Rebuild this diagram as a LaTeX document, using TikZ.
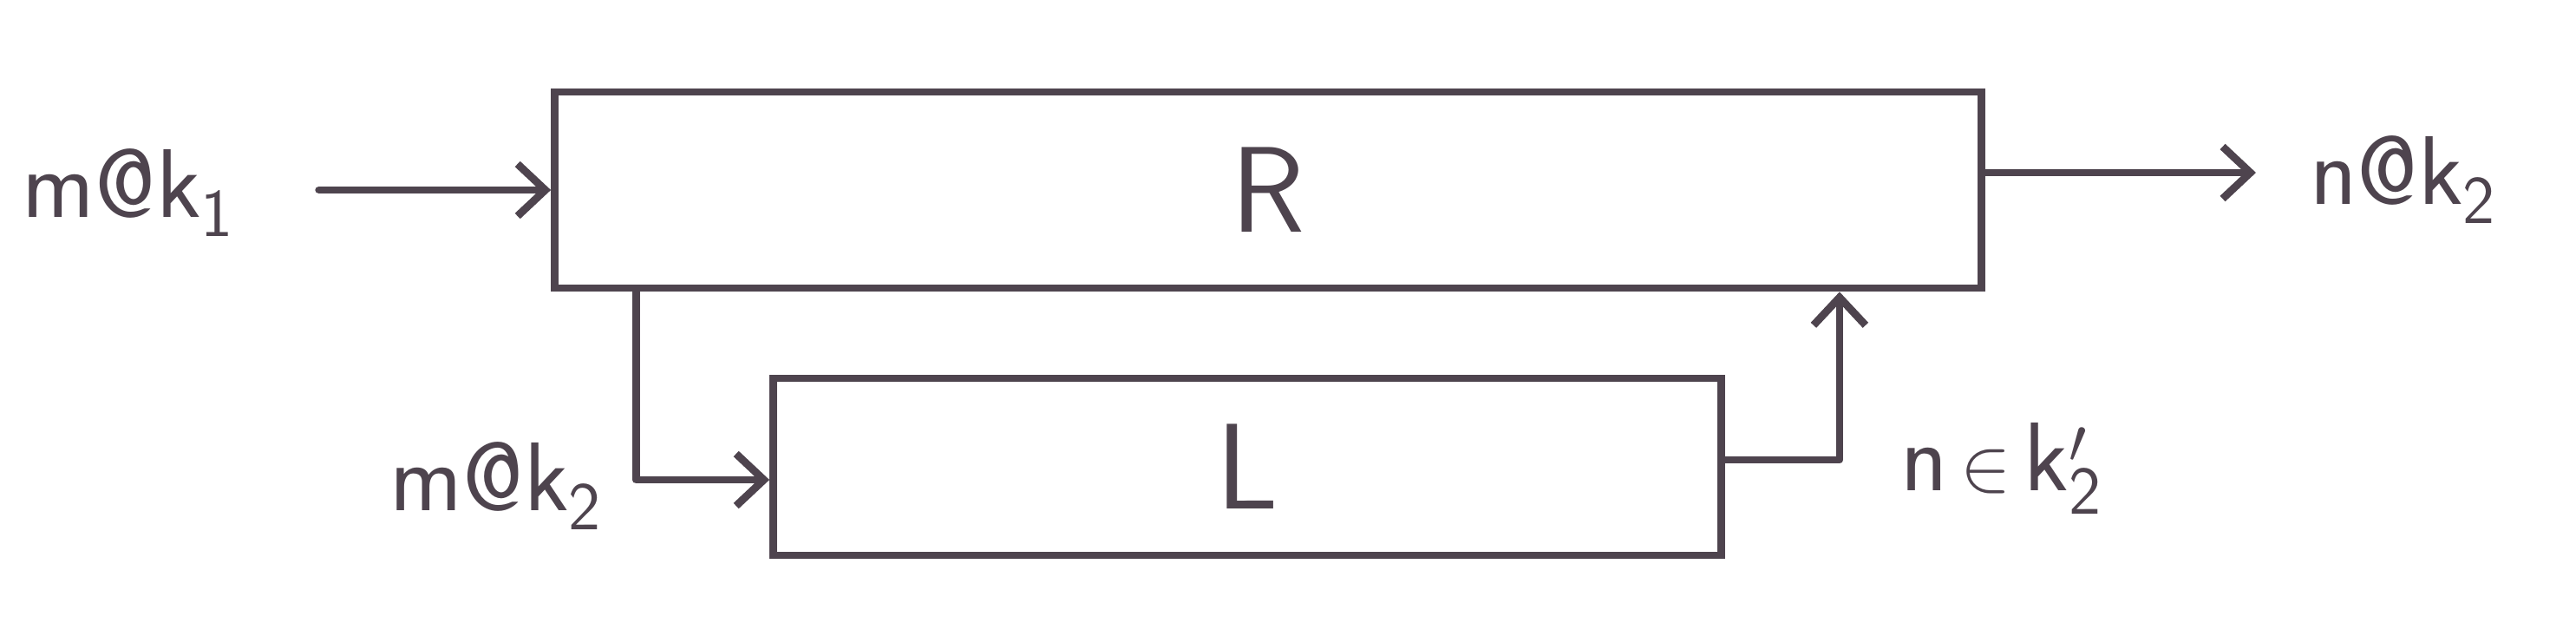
\documentclass[tikz,border=0pt]{standalone}
\usepackage{fontspec}
\usetikzlibrary{positioning, arrows.meta}

\begin{document}
\begin{tikzpicture}[
    block/.style={draw=pencil, line width=2.5pt, inner sep=0pt, text=pencil, font=\fontsize{40}{40}\selectfont\sffamily},
    flow/.style={draw=pencil, line width=2.5pt, ->, >={Straight Barb[length=3.2mm, width=6mm]}, line cap=round, line join=round},
    tag/.style={text=pencil, font=\fontsize{32}{32}\selectfont\sffamily},
  ]

\definecolor{pencil}{RGB}{78, 68, 78}
\useasboundingbox (0,0) rectangle (29.7,7.32);

%blocks
\node[block, minimum width=16.45cm, minimum height=2.26cm] (R) at (14.62,5.13) {R};
\node[block, minimum width=10.93cm, minimum height=2.04cm] (L) at (14.38,1.94) {L};

%labels
\node[tag] (mk1) at (1.48,5.10) {m@k\textsubscript{1}};
\node[tag] (nk2) at (27.71,5.25) {n@k\textsubscript{2}};
\node[tag] (mk2) at (5.72,1.72) {m@k\textsubscript{2}};
\node[tag] (nk2p) at (23.08,1.92) {$\mathsf{n}\,{\in}\,\mathsf{k}'_{\mathsf{2}}$};

%connectors
\draw[flow, shorten <=0.85cm] (mk1.east |- R.west) -- (R.west);
\draw[flow, shorten >=0.5cm] ([yshift=0.08cm]nk2.west -| R.east) -- ([yshift=0.08cm]nk2.west);
\draw[flow] ([xshift=0.98cm]R.south west) |- ([yshift=-0.15cm]L.west);
\draw[flow] ([yshift=0.08cm]L.east) -| ([xshift=-1.68cm]R.south east);

\end{tikzpicture}
\end{document}
